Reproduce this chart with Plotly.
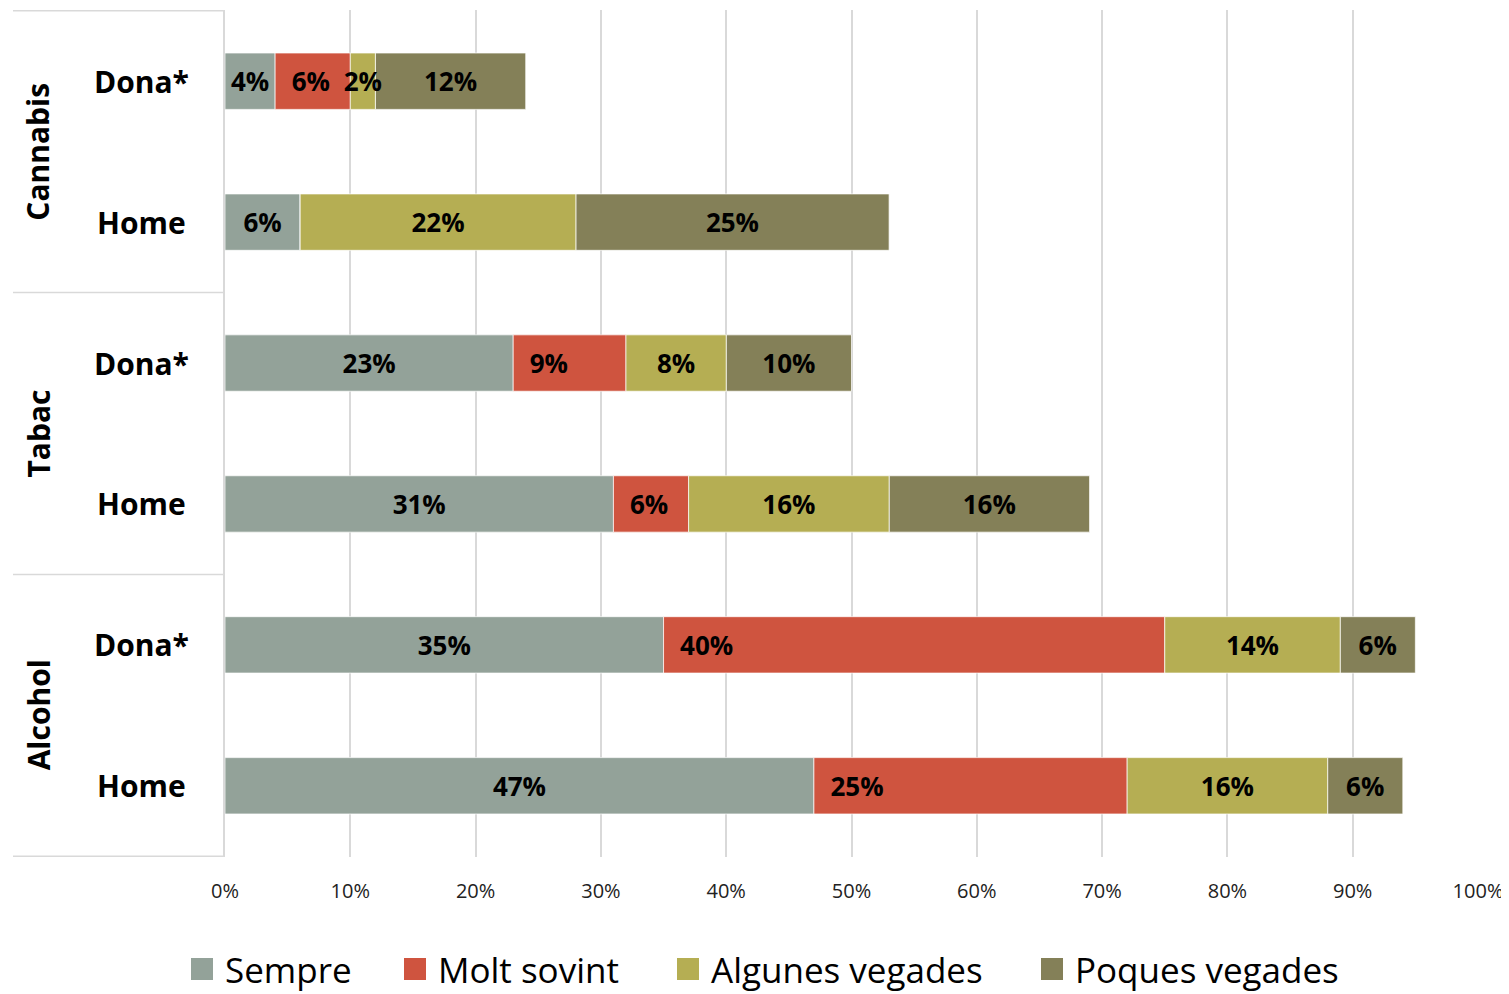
"""Stacked horizontal bars: frequency of use by substance and sex."""

import plotly.graph_objects as go

# Data (order: Cannabis Dona*, Cannabis Home, Tabac Dona*, Tabac Home, Alcohol Dona*, Alcohol Home)
groups = ["Cannabis", "Tabac", "Alcohol"]
sexes = ["Dona*", "Home"]
series_names = ["Sempre", "Molt sovint", "Algunes vegades", "Poques vegades"]
sempre = [4, 6, 23, 31, 35, 47]
molt_sovint = [6, 0, 9, 6, 40, 25]
algunes_vegades = [2, 22, 8, 16, 14, 16]
poques_vegades = [12, 25, 10, 16, 6, 6]
x_ticks = [0, 10, 20, 30, 40, 50, 60, 70, 80, 90, 100]

colors = ["#93A299", "#CF543F", "#B5AE53", "#848058"]
FONT = "Open Sans"

# the page puts the figure 8px in from the top-left corner, so work in figure pixels
OFF = 8
W, H = 1509 - OFF, 994 - OFF
L, R, T, B = 225 - OFF, 1478 - OFF, 10 - OFF, 857 - OFF

keys = [f"{g}|{s}" for g in groups for s in sexes]
labels = [s for g in groups for s in sexes]

series = [sempre, molt_sovint, algunes_vegades, poques_vegades]
bases = []
running = [0] * len(keys)
for vals in series:
    bases.append(list(running))
    running = [a + b for a, b in zip(running, vals)]

fig = go.Figure()
# draw order chosen so the "Algunes vegades" labels sit on top of their neighbours
for idx in [3, 0, 1, 2]:
    name, vals, col, base = series_names[idx], series[idx], colors[idx], bases[idx]
    anchor = "start" if name == "Molt sovint" else "middle"
    txt = [("\u00a0\u00a0" + f"{v}%" if anchor == "start" else f"{v}%") if v else ""
           for v in vals]
    fig.add_trace(go.Bar(
        name=name, y=keys, x=vals, base=base, orientation="h",
        marker=dict(color=col, line=dict(color="rgba(255,255,255,0.7)", width=1)),
        text=txt, textposition="inside", insidetextanchor=anchor, textangle=0,
        textfont=dict(family=FONT, size=26, color="#000000", weight="bold"),
        cliponaxis=False, hoverinfo="name+x", showlegend=False,
    ))

# sub-category labels (Dona*/Home)
for k, lab in zip(keys, labels):
    fig.add_annotation(x=(141 - OFF - L) / (R - L), xref="paper", y=k, yref="y", text=lab,
                       showarrow=False, xanchor="center", yanchor="middle",
                       font=dict(family=FONT, size=30, color="#000000", weight="bold"))

# group labels, rotated
for i, g in enumerate(groups):
    fig.add_annotation(x=(38 - OFF - L) / (R - L), xref="paper", y=2 * i + 0.5, yref="y",
                       text=g, textangle=-90, showarrow=False,
                       xanchor="center", yanchor="middle",
                       font=dict(family=FONT, size=30, color="#000000", weight="bold"))

# group separator lines on the left
for yy in [-0.5, 1.5, 3.5, 5.5]:
    fig.add_shape(type="line", xref="paper", x0=(13 - OFF - L) / (R - L), x1=0,
                  yref="y", y0=yy, y1=yy, line=dict(color="#D9D9D9", width=1.5))

# legend drawn by hand so the swatches can be as big as in the original
legend_x = [191, 404, 677, 1041]
legend_y = 969
sw = 22
for name, col, px in zip(series_names, colors, legend_x):
    px -= OFF
    py = legend_y - OFF
    fig.add_shape(type="rect", xref="paper", yref="paper",
                  x0=(px - L) / (R - L), x1=(px + sw - L) / (R - L),
                  y0=(B - py - sw / 2) / (B - T), y1=(B - py + sw / 2) / (B - T),
                  fillcolor=col, line=dict(width=0))
    fig.add_annotation(x=(px + sw + 10 - L) / (R - L), xref="paper",
                       y=(B - py) / (B - T), yref="paper", text=name,
                       showarrow=False, xanchor="left", yanchor="middle",
                       font=dict(family=FONT, size=35, color="#000000"))

fig.update_layout(
    width=W, height=H,
    barmode="overlay", bargap=0.6,
    plot_bgcolor="white", paper_bgcolor="white",
    margin=dict(l=L, r=W - R, t=T, b=H - B, autoexpand=False),
    uniformtext=dict(minsize=26, mode="show"),
    font=dict(family=FONT, color="#000000"),
    showlegend=False,
    xaxis=dict(range=[0, 100], tickvals=x_ticks, ticktext=[f"{v}%" for v in x_ticks],
               showgrid=True, gridcolor="#D9D9D9", gridwidth=1.5,
               zeroline=False, showline=False, ticks="", automargin=False,
               ticklabelstandoff=20,
               tickfont=dict(family=FONT, size=20, color="#222222"), fixedrange=True),
    yaxis=dict(categoryorder="array", categoryarray=keys, autorange="reversed",
               showticklabels=False, showgrid=False, zeroline=False, automargin=False,
               showline=True, linecolor="#D9D9D9", linewidth=1.5, fixedrange=True),
)

fig.write_html("out.html")
